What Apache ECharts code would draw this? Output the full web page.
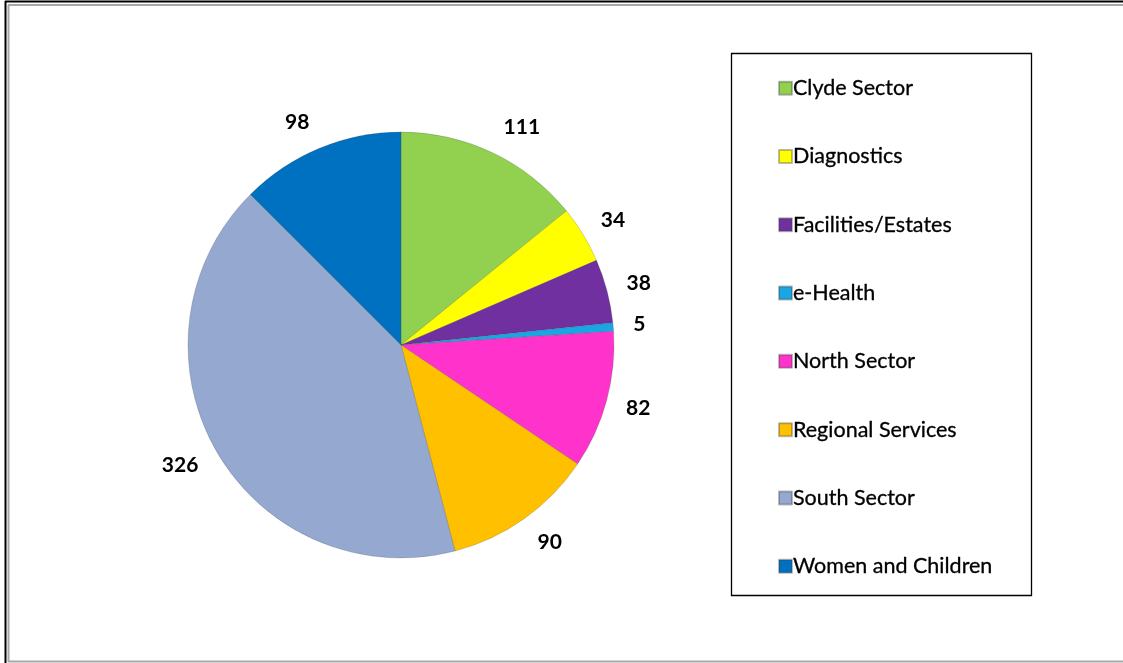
<!DOCTYPE html>
<html>
<head>
<meta charset="utf-8">
<script src="https://cdn.jsdelivr.net/npm/echarts@6/dist/echarts.min.js"></script>
<style>
html,body{margin:0;padding:0;background:#fff;}
#chart{width:1123px;height:663px;}
</style>
</head>
<body>
<div id="chart"></div>
<script>
const categories = ["Clyde Sector","Diagnostics","Facilities/Estates","e-Health","North Sector","Regional Services","South Sector","Women and Children"];
const values = [111, 34, 38, 5, 82, 90, 326, 98];
const colors = ["#92D050","#FFFF00","#7030A0","#1AA6E4","#FF33CC","#FFC000","#95A9D0","#0070C0"];

const chart = echarts.init(document.getElementById('chart'), null, {renderer:'canvas'});
const FONT = 'Lato, "Open Sans", sans-serif';

const total = values.reduce((a, b) => a + b, 0);
const midAngles = [];
let acc = 0;
values.forEach(v => { midAngles.push((acc + v / 2) / total * 2 * Math.PI); acc += v; });

const option = {
  backgroundColor: '#ffffff',
  animation: false,
  color: colors,
  graphic: [
    {type:'line', shape:{x1:5, y1:1.5, x2:1123, y2:1.5}, style:{stroke:'#000', lineWidth:2}},
    {type:'line', shape:{x1:5.5, y1:1, x2:5.5, y2:663}, style:{stroke:'#000', lineWidth:2}},
    {type:'line', shape:{x1:8, y1:5, x2:1123, y2:5}, style:{stroke:'#a8a8a8', lineWidth:2}},
    {type:'line', shape:{x1:8.5, y1:5, x2:8.5, y2:662}, style:{stroke:'#a8a8a8', lineWidth:2}},
    {type:'line', shape:{x1:8, y1:661.5, x2:1123, y2:661.5}, style:{stroke:'#a8a8a8', lineWidth:2}},
    {type:'rect', shape:{x:731.5, y:53.5, width:300, height:542}, style:{fill:'none', stroke:'#000', lineWidth:1.3}, z:-1}
  ],
  legend: {
    orient: 'vertical',
    left: 773,
    top: 72,
    itemWidth: 13,
    itemHeight: 13,
    itemGap: 46,
    icon: 'rect',
    textStyle: {fontFamily: FONT, fontSize: 21.5, color: '#000', lineHeight: 22, padding:[0,0,0,-4], textBorderColor:'#000', textBorderWidth:0.3},
    data: categories
  },
  series: [{
    type: 'pie',
    center: [401, 345],
    radius: 213,
    startAngle: 90,
    clockwise: true,
    avoidLabelOverlap: false,
    itemStyle: {borderColor: 'rgba(60,60,60,0.35)', borderWidth: 0.6},
    label: {
      show: true,
      position: 'outside',
      formatter: '{c}',
      fontFamily: FONT,
      fontSize: 21,
      fontWeight: 'bold',
      color: '#000',
      distanceToLabelLine: 4
    },
    labelLine: {show: false, length: 16, length2: 0},
    labelLayout: function (p) {
      const a = midAngles[p.dataIndex];
      const r = p.labelRect;
      return { y: r.y + r.height / 2 - Math.cos(a) * r.height * 0.6 };
    },
    emphasis: {disabled: true},
    data: categories.map((c, i) => ({name: c, value: values[i]}))
  }]
};
chart.setOption(option);
</script>
</body>
</html>
